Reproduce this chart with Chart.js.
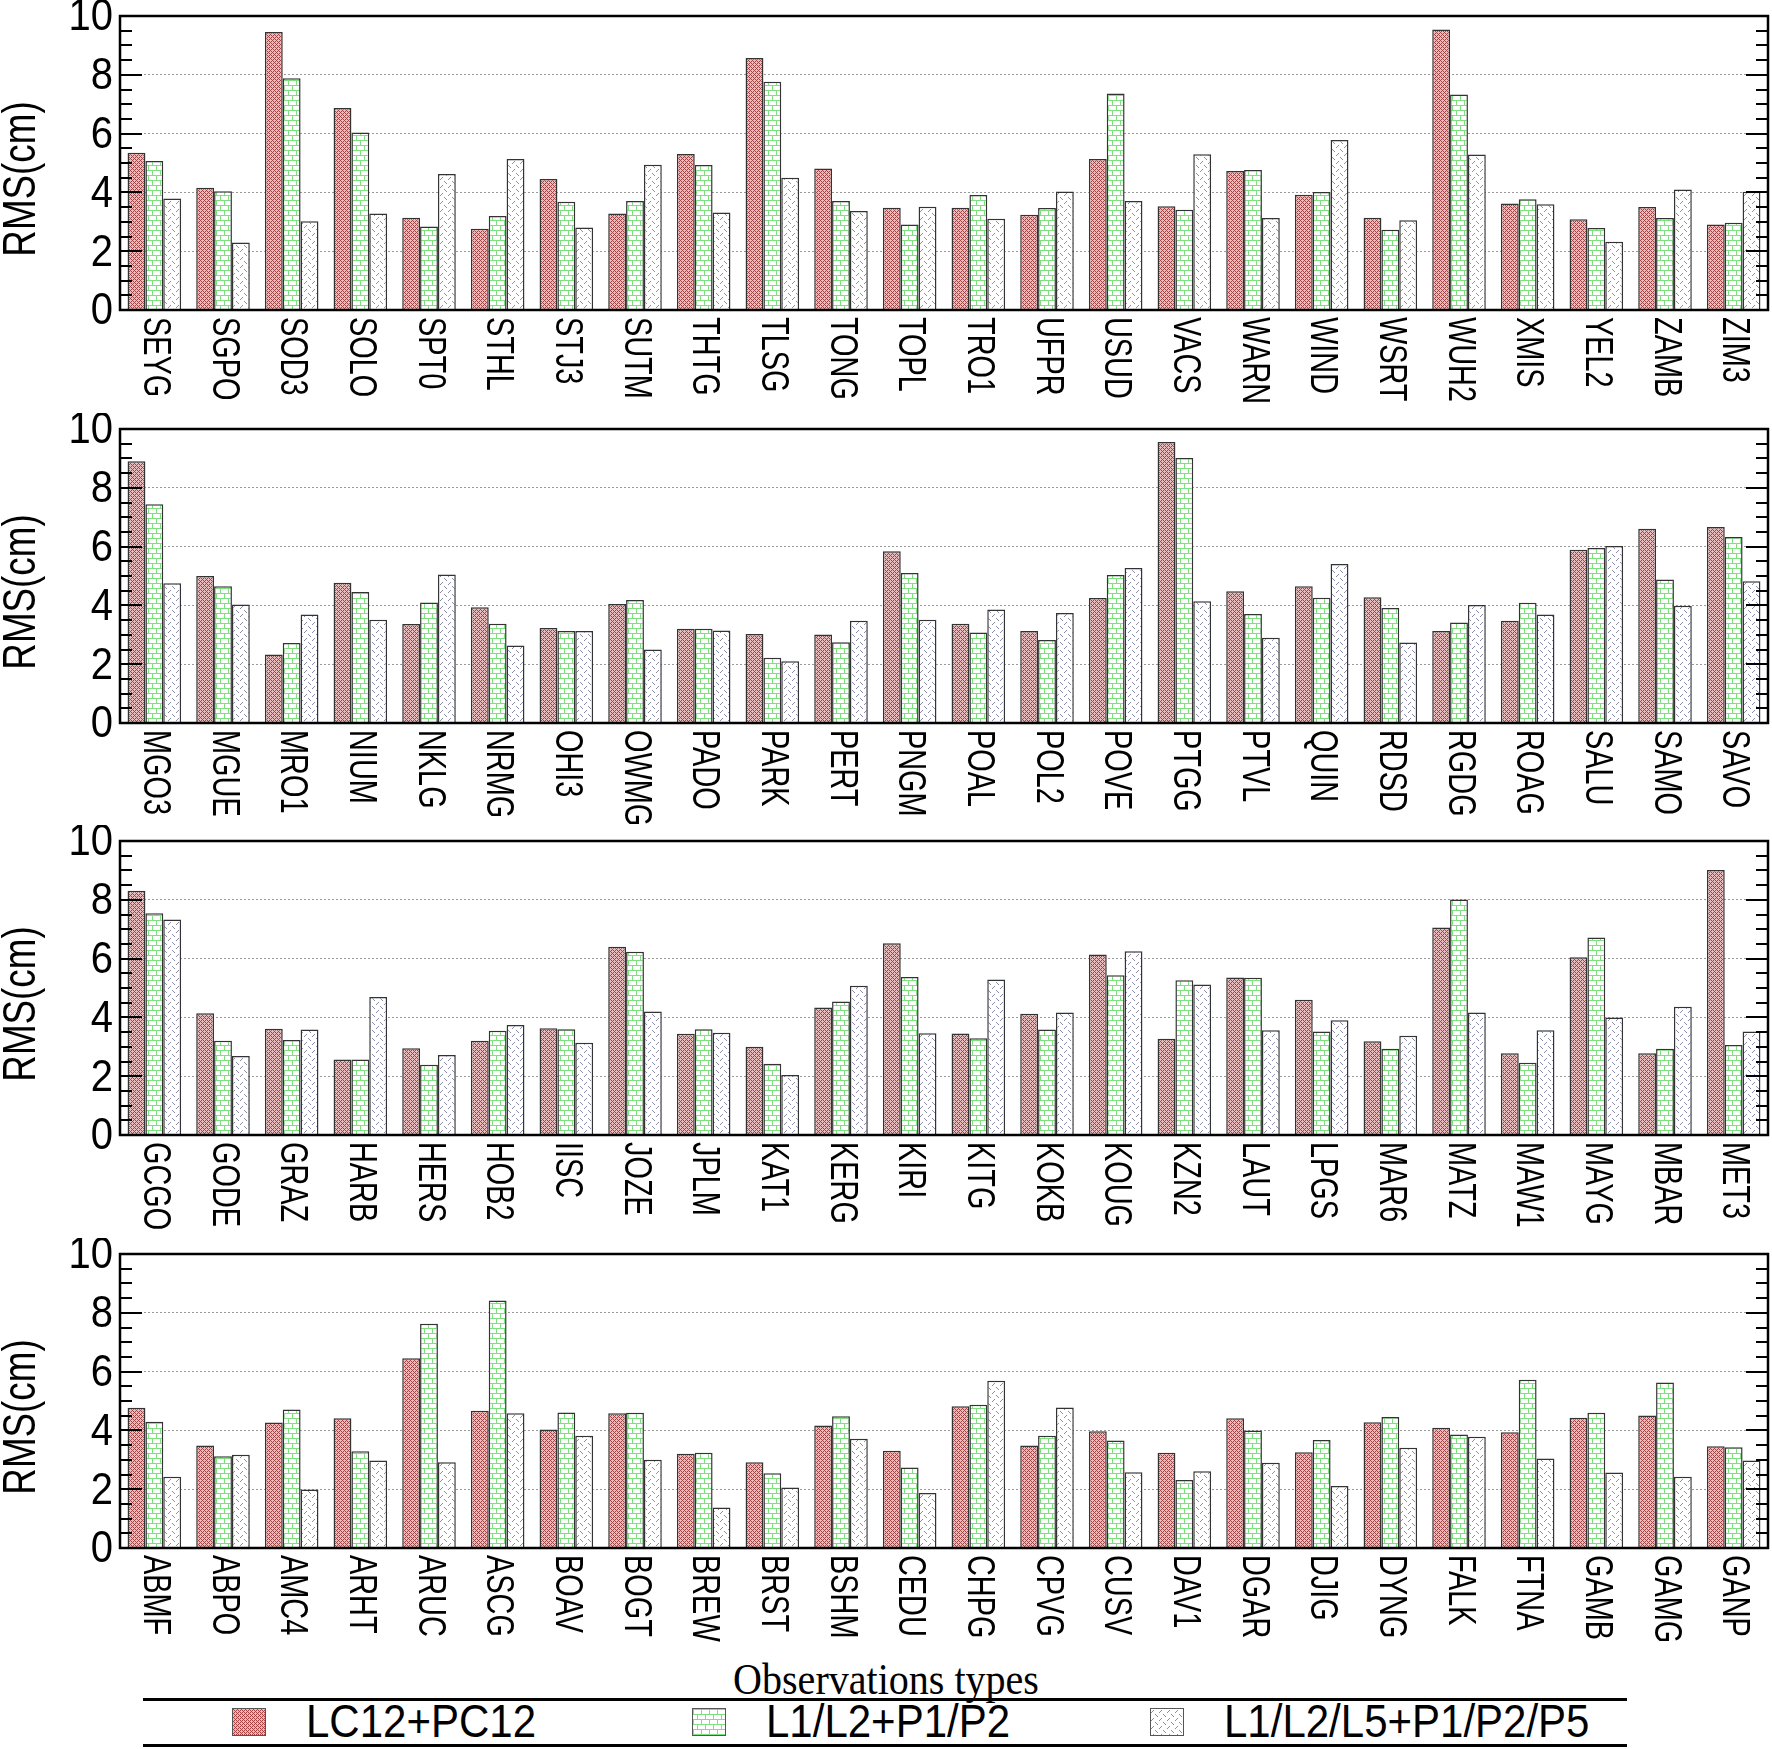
<!DOCTYPE html>
<html><head><meta charset="utf-8">
<script src="https://cdn.jsdelivr.net/npm/chart.js@4.4.1/dist/chart.umd.min.js"></script>
<style>
html,body{margin:0;padding:0;background:#fff;}
#wrap{position:relative;width:1772px;height:1749px;overflow:hidden;background:#fff;}
.panel{position:absolute;left:0;width:1772px;height:412px;}
.hline{position:absolute;left:143px;width:1484px;height:3px;background:#000;}
#ltitle{position:absolute;left:0;width:1772px;text-align:center;top:1656px;font-family:"Liberation Serif","Times New Roman",serif;font-size:44px;line-height:48px;color:#000;transform:scaleX(0.91);transform-origin:886px 0;}
.item{position:absolute;top:1702px;height:40px;display:flex;align-items:center;font-family:"Liberation Sans",Arial,sans-serif;font-size:42px;color:#000;}
.item span{display:inline-block;transform:scaleY(1.08);}
.item canvas{margin-right:40px;border:1px solid #555;}
</style></head><body>
<div id="wrap">
 <div class="panel" style="top:0px"><canvas id="c0" width="1772" height="412"></canvas></div>
 <div class="panel" style="top:413px"><canvas id="c1" width="1772" height="412"></canvas></div>
 <div class="panel" style="top:825px"><canvas id="c2" width="1772" height="412"></canvas></div>
 <div class="panel" style="top:1238px"><canvas id="c3" width="1772" height="412"></canvas></div>
 <div id="ltitle">Observations types</div>
 <div class="hline" style="top:1698px"></div>
 <div class="hline" style="top:1744px"></div>
 <div class="item" style="left:232px"><canvas id="s0" width="32" height="26"></canvas><span id="t0"></span></div>
 <div class="item" style="left:692px"><canvas id="s1" width="32" height="26"></canvas><span id="t1"></span></div>
 <div class="item" style="left:1150px"><canvas id="s2" width="32" height="26"></canvas><span id="t2"></span></div>
</div>
<script>
// ---- data ----
const seriesNames = ['LC12+PC12', 'L1/L2+P1/P2', 'L1/L2/L5+P1/P2/P5'];
const yTicks = [0, 2, 4, 6, 8, 10];

const stations1 = ['SEYG','SGPO','SOD3','SOLO','SPT0','STHL','STJ3','SUTM','THTG','TLSG','TONG','TOPL','TRO1','UFPR','USUD','VACS','WARN','WIND','WSRT','WUH2','XMIS','YEL2','ZAMB','ZIM3'];
const lc1   = [5.35,4.16,9.46,6.87,3.14,2.76,4.46,3.28,5.31,8.57,4.81,3.48,3.48,3.24,5.14,3.53,4.73,3.92,3.14,9.54,3.62,3.09,3.50,2.91];
const l12_1 = [5.07,4.04,7.88,6.04,2.84,3.20,3.68,3.71,4.93,7.76,3.71,2.91,3.91,3.47,7.36,3.41,4.76,4.01,2.73,7.33,3.77,2.79,3.13,2.97];
const l125_1= [3.79,2.30,3.02,3.28,4.63,5.14,2.81,4.94,3.32,4.50,3.37,3.51,3.10,4.03,3.71,5.30,3.13,5.78,3.05,5.29,3.60,2.32,4.10,4.02];

const stations2 = ['MGO3','MGUE','MRO1','NIUM','NKLG','NRMG','OHI3','OWMG','PADO','PARK','PERT','PNGM','POAL','POL2','POVE','PTGG','PTVL','QUIN','RDSD','RGDG','ROAG','SALU','SAMO','SAVO'];
const lc2   = [8.90,5.00,2.33,4.77,3.37,3.94,3.23,4.05,3.21,3.03,3.01,5.84,3.38,3.13,4.25,9.56,4.48,4.65,4.28,3.13,3.48,5.89,6.61,6.67];
const l12_2 = [7.44,4.65,2.72,4.46,4.10,3.38,3.13,4.18,3.21,2.22,2.75,5.10,3.08,2.82,5.03,9.01,3.71,4.26,3.91,3.42,4.09,5.95,4.88,6.33];
const l125_2= [4.75,4.03,3.69,3.51,5.05,2.64,3.13,2.50,3.15,2.10,3.48,3.51,3.86,3.74,5.27,4.14,2.90,5.41,2.74,4.01,3.69,6.02,3.99,4.82];

const stations3 = ['GCGO','GODE','GRAZ','HARB','HERS','HOB2','IISC','JOZE','JPLM','KAT1','KERG','KIRI','KITG','KOKB','KOUG','KZN2','LAUT','LPGS','MAR6','MATZ','MAW1','MAYG','MBAR','MET3'];
const lc3   = [8.31,4.14,3.61,2.57,2.95,3.21,3.63,6.40,3.44,3.00,4.34,6.52,3.45,4.12,6.14,3.27,5.36,4.60,3.19,7.06,2.78,6.05,2.78,9.01];
const l12_3 = [7.54,3.21,3.23,2.57,2.39,3.55,3.60,6.23,3.60,2.42,4.54,5.37,3.29,3.59,5.43,5.26,5.35,3.52,2.93,8.01,2.46,6.72,2.93,3.06];
const l125_3= [7.33,2.69,3.59,4.69,2.72,3.74,3.14,4.20,3.48,2.04,5.08,3.46,5.29,4.17,6.25,5.12,3.56,3.90,3.38,4.17,3.56,4.00,4.36,3.52];

const stations4 = ['ABMF','ABPO','AMC4','ARHT','ARUC','ASCG','BOAV','BOGT','BREW','BRST','BSHM','CEDU','CHPG','CPVG','CUSV','DAV1','DGAR','DJIG','DYNG','FALK','FTNA','GAMB','GAMG','GANP'];
const lc4   = [4.77,3.49,4.27,4.41,6.45,4.67,4.03,4.58,3.21,2.92,4.17,3.31,4.82,3.49,3.97,3.24,4.41,3.26,4.28,4.09,3.94,4.43,4.51,3.46];
const l12_4 = [4.29,3.12,4.71,3.29,7.63,8.42,4.61,4.60,3.24,2.54,4.48,2.74,4.87,3.82,3.66,2.31,4.00,3.67,4.46,3.86,5.72,4.60,5.63,3.43];
const l125_4= [2.42,3.17,1.99,2.98,2.92,4.58,3.82,3.00,1.38,2.06,3.72,1.87,5.69,4.78,2.58,2.61,2.90,2.11,3.41,3.78,3.04,2.57,2.42,2.98];

// ---- patterns ----
function tile(w, h, draw){ const c = document.createElement('canvas'); c.width = w; c.height = h; const g = c.getContext('2d'); draw(g); return c; }
const redTile = tile(4, 4, g => {
  g.fillStyle = '#e8bcbc'; g.fillRect(0,0,4,4);
  g.fillStyle = '#a84242';
  for (let x=0;x<4;x++) for (let y=0;y<4;y++) if ((x+y)%4===0 || ((x-y)+4)%4===0) g.fillRect(x,y,1,1);
});
const greenTile = tile(8, 10, g => {
  g.fillStyle = '#ffffff'; g.fillRect(0,0,8,10);
  g.fillStyle = '#7fe07f';
  g.fillRect(0,0,8,1); g.fillRect(0,5,8,1);
  g.fillRect(0,1,1,4); g.fillRect(4,6,1,4);
});
const grayTile = tile(8, 8, g => {
  g.fillStyle = '#ffffff'; g.fillRect(0,0,8,8);
  g.fillStyle = '#8c8cab';
  g.fillRect(0,3,1,1); g.fillRect(1,2,1,1); g.fillRect(2,1,1,1);
  g.fillRect(4,5,1,1); g.fillRect(5,6,1,1); g.fillRect(6,7,1,1);
});
function pats(ctx){ return [ctx.createPattern(redTile,'repeat'), ctx.createPattern(greenTile,'repeat'), ctx.createPattern(grayTile,'repeat')]; }

// ---- frame / labels plugin ----
const framePlugin = {
  id: 'frame',
  afterDraw(chart){
    const ctx = chart.ctx, a = chart.chartArea, ys = chart.scales.y, xs = chart.scales.x;
    ctx.save();
    ctx.strokeStyle = '#000'; ctx.lineWidth = 2.5;
    ctx.strokeRect(a.left, a.top, a.right - a.left, a.bottom - a.top);
    ctx.lineWidth = 2;
    for (let v = 0; v <= 10.001; v += 0.5) {
      const y = Math.round(ys.getPixelForValue(v));
      const major = Math.abs(v/2 - Math.round(v/2)) < 1e-6;
      const L = major ? 22 : 12;
      ctx.beginPath();
      ctx.moveTo(a.left, y); ctx.lineTo(a.left + L, y);
      ctx.moveTo(a.right, y); ctx.lineTo(a.right - L, y);
      ctx.stroke();
    }
    ctx.fillStyle = '#000';
    ctx.font = '40px "Liberation Sans", Arial, sans-serif';
    ctx.textAlign = 'right'; ctx.textBaseline = 'middle';
    yTicks.forEach(v => {
      ctx.save();
      ctx.translate(a.left - 7, ys.getPixelForValue(v) + 2);
      ctx.scale(1, 1.12);
      ctx.fillText(String(v), 0, 0);
      ctx.restore();
    });
    ctx.save();
    ctx.translate(22, (a.top + a.bottom) / 2 + 16);
    ctx.rotate(-Math.PI / 2);
    ctx.scale(0.8, 1);
    ctx.textAlign = 'center';
    ctx.font = '46px "Liberation Sans", Arial, sans-serif';
    ctx.fillText('RMS(cm)', 0, 0);
    ctx.restore();
    ctx.font = '38px "Liberation Sans", Arial, sans-serif';
    ctx.textAlign = 'left'; ctx.textBaseline = 'middle';
    chart.data.labels.forEach((lab, i) => {
      const x = xs.getPixelForValue(i);
      ctx.save();
      ctx.translate(x, a.bottom + 7);
      ctx.rotate(Math.PI / 2);
      ctx.scale(0.76, 1);
      ctx.fillText(lab, 0, 0);
      ctx.restore();
    });
    ctx.restore();
  }
};

function makeChart(id, labels, a, b, c){
  const canvas = document.getElementById(id);
  const p = pats(canvas.getContext('2d'));
  const ds = [a, b, c].map((d, k) => ({
    label: seriesNames[k], data: d, backgroundColor: p[k],
    borderColor: '#333', borderWidth: 1.5, borderSkipped: 'bottom',
    categoryPercentage: 0.78, barPercentage: 1.0
  }));
  return new Chart(canvas, {
    type: 'bar',
    data: { labels: labels, datasets: ds },
    options: {
      responsive: false, animation: false, devicePixelRatio: 1,
      layout: { padding: { top: 16, right: 4, left: 0, bottom: 0 } },
      plugins: { legend: { display: false }, tooltip: { enabled: false } },
      scales: {
        x: { grid: { display: false, drawTicks: false }, border: { display: false }, ticks: { display: false },
             afterFit(s){ s.height = 102; } },
        y: { min: 0, max: 10,
             afterBuildTicks(s){ s.ticks = yTicks.map(v => ({ value: v })); },
             grid: { color: '#9a9a9a', lineWidth: 1, drawTicks: false },
             border: { display: false, dash: [2, 2] },
             ticks: { display: false },
             afterFit(s){ s.width = 120; } }
      }
    },
    plugins: [framePlugin]
  });
}

makeChart('c0', stations1, lc1, l12_1, l125_1);
makeChart('c1', stations2, lc2, l12_2, l125_2);
makeChart('c2', stations3, lc3, l12_3, l125_3);
makeChart('c3', stations4, lc4, l12_4, l125_4);

// legend swatches + text
['s0','s1','s2'].forEach((id, k) => {
  const cv = document.getElementById(id), g = cv.getContext('2d');
  g.fillStyle = pats(g)[k]; g.fillRect(0, 0, cv.width, cv.height);
  document.getElementById('t' + k).textContent = seriesNames[k];
});
</script>
</body></html>
